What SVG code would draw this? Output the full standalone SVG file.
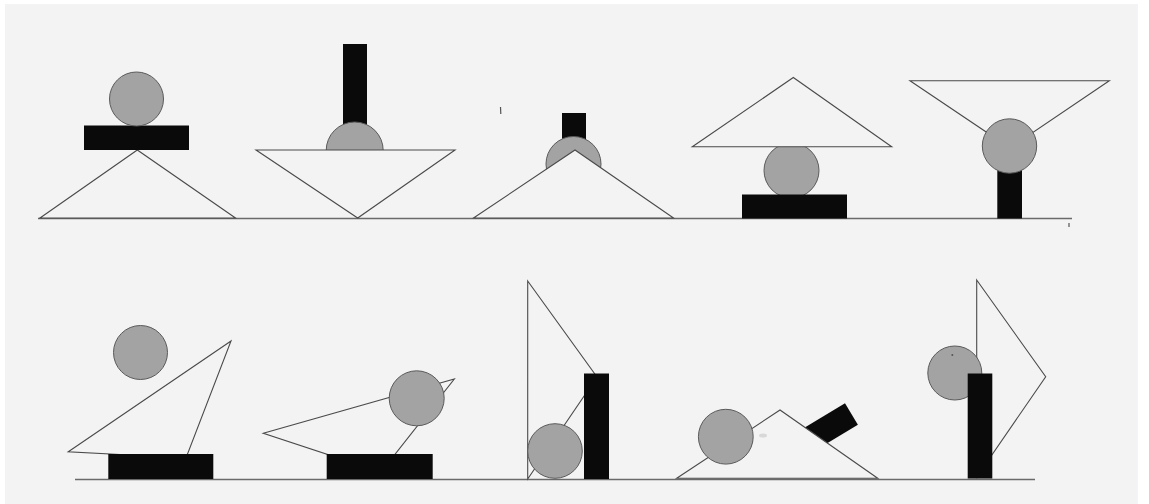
<svg xmlns="http://www.w3.org/2000/svg" width="1149" height="504" viewBox="0 0 1149 504">
<style>
.bg{fill:#f3f3f3}
.tri{fill:#f3f3f3;stroke:#4a4a4a;stroke-width:1.1;stroke-linejoin:miter}
.blk{fill:#0a0a0a}
.ball{fill:#a3a3a3;stroke:#5a5a5a;stroke-width:1}
.ground{stroke:#6a6a6a;stroke-width:1.3;fill:none}
.speck{stroke:#555;stroke-width:1.2;fill:none}
</style>
<rect x="0" y="0" width="1149" height="504" fill="#ffffff"/>
<rect class="bg" x="5" y="4" width="1133" height="500"/>

<g id="ground-top"><line class="ground" x1="38" y1="218.5" x2="1072" y2="218.5"/></g>
<g id="ground-bottom"><line class="ground" x1="75" y1="479.5" x2="1035" y2="479.5"/></g>

<g id="scene1">
<polygon class="tri" points="40,218 137.3,150 235.5,218"/>
<rect class="blk" x="84" y="125.5" width="105" height="24.5"/>
<circle class="ball" cx="136.5" cy="99" r="27"/>
</g>

<g id="scene2">
<rect class="blk" x="343" y="44" width="24" height="95"/>
<circle class="ball" cx="354.7" cy="150.5" r="28.5"/>
<polygon class="tri" points="256,150 455,150 357.7,218"/>
</g>

<g id="scene3">
<rect class="blk" x="562" y="113" width="24" height="40"/>
<circle class="ball" cx="573.5" cy="164" r="27.5"/>
<polygon class="tri" points="473.5,218 575,150 673.5,218"/>
</g>

<g id="scene4">
<circle class="ball" cx="791.5" cy="170.5" r="27.5"/>
<polygon class="tri" points="692.3,146.8 793.3,77.5 891.7,146.8"/>
<rect class="blk" x="742" y="194.5" width="105" height="24"/>
</g>

<g id="scene5">
<polygon class="tri" points="910,80.7 1109.3,80.7 1010,148"/>
<rect class="blk" x="997.3" y="160" width="24.7" height="58.5"/>
<circle class="ball" cx="1009.5" cy="146" r="27.2"/>
</g>

<g id="scene6">
<circle class="ball" cx="140.5" cy="352.5" r="27"/>
<polygon class="tri" points="68.3,451.7 231,341 186,458"/>
<rect class="blk" x="108.3" y="454" width="105" height="25"/>
</g>

<g id="scene7">
<polygon class="tri" points="263.3,433.3 454.3,379 381,472"/>
<circle class="ball" cx="416.7" cy="398.3" r="27.5"/>
<rect class="blk" x="326.7" y="454" width="106" height="25"/>
</g>

<g id="scene8">
<polygon class="tri" points="527.7,281 597,377 527.7,479"/>
<circle class="ball" cx="555" cy="451" r="27.3"/>
<rect class="blk" x="584" y="373.5" width="25" height="105.5"/>
</g>

<g id="scene9">
<rect class="blk" x="-60" y="0" width="60" height="25" transform="translate(845,403.3) rotate(-31)"/>
<polygon class="tri" points="676.7,478.3 780,410 877.7,478.3"/>
<circle class="ball" cx="725.8" cy="436.7" r="27.4"/>
<ellipse cx="763" cy="435.5" rx="4" ry="2" fill="#d8d8d8"/>
</g>

<g id="scene10">
<polygon class="tri" points="976.7,280 1045.7,376.7 976.7,477"/>
<circle class="ball" cx="954.8" cy="373" r="27"/>
<rect class="blk" x="967.7" y="373.5" width="24.6" height="105"/>
<circle cx="952.3" cy="355" r="1" fill="#555"/>
</g>

<g id="specks">
<line class="speck" x1="500.5" y1="107" x2="500.8" y2="114"/>
<line class="speck" x1="1069" y1="223" x2="1069" y2="227" stroke-width="0.8"/>
</g>
</svg>
